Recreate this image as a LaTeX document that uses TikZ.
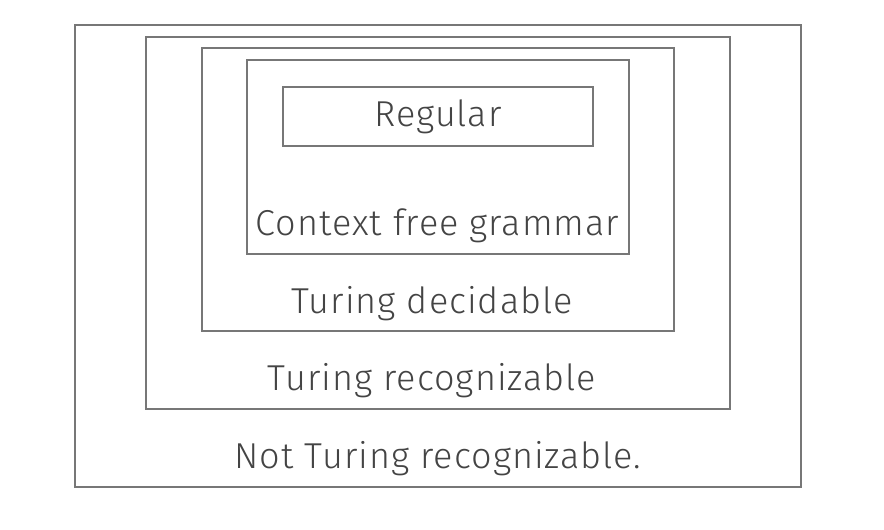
\documentclass[tikz,border=0pt]{standalone}
\usepackage{fontspec}
\setmainfont{Fira Sans Light}[LetterSpace=2.8]
\begin{document}
\begin{tikzpicture}[x=1pt,y=-1pt,
  setbox/.style={draw=boxgray, line width=1.3pt, inner sep=0pt, outer sep=0pt},
  lbl/.style={anchor=base, inner sep=0pt, text=txtgray, font=\fontsize{36}{40}\selectfont}]
\definecolor{boxgray}{HTML}{777777}
\definecolor{txtgray}{HTML}{444444}
\fill[white] (0,0) rectangle (884,530);
\useasboundingbox (0,0) rectangle (884,530);
\node[setbox, minimum width=726pt, minimum height=462pt] (notrec) at (438,256) {};
\node[setbox, minimum width=584pt, minimum height=372pt] (rec) at (438,223) {};
\node[setbox, minimum width=472pt, minimum height=283pt] (dec) at (438,189.5) {};
\node[setbox, minimum width=382pt, minimum height=194pt] (cfg) at (438,157) {};
\node[setbox, minimum width=310pt, minimum height=59pt] (reg) at (438,116.5) {};
\node[lbl] (regt) at (438,126) {Regular};
\node[lbl] (cfgt) at (437.5,235) {Context free grammar};
\node[lbl] (dect) at (432,313) {Turing decidable};
\node[lbl] (rect) at (432,390) {Turing recognizable};
\node[lbl] (notrect) at (438,468) {Not Turing recognizable.};
\end{tikzpicture}
\end{document}
